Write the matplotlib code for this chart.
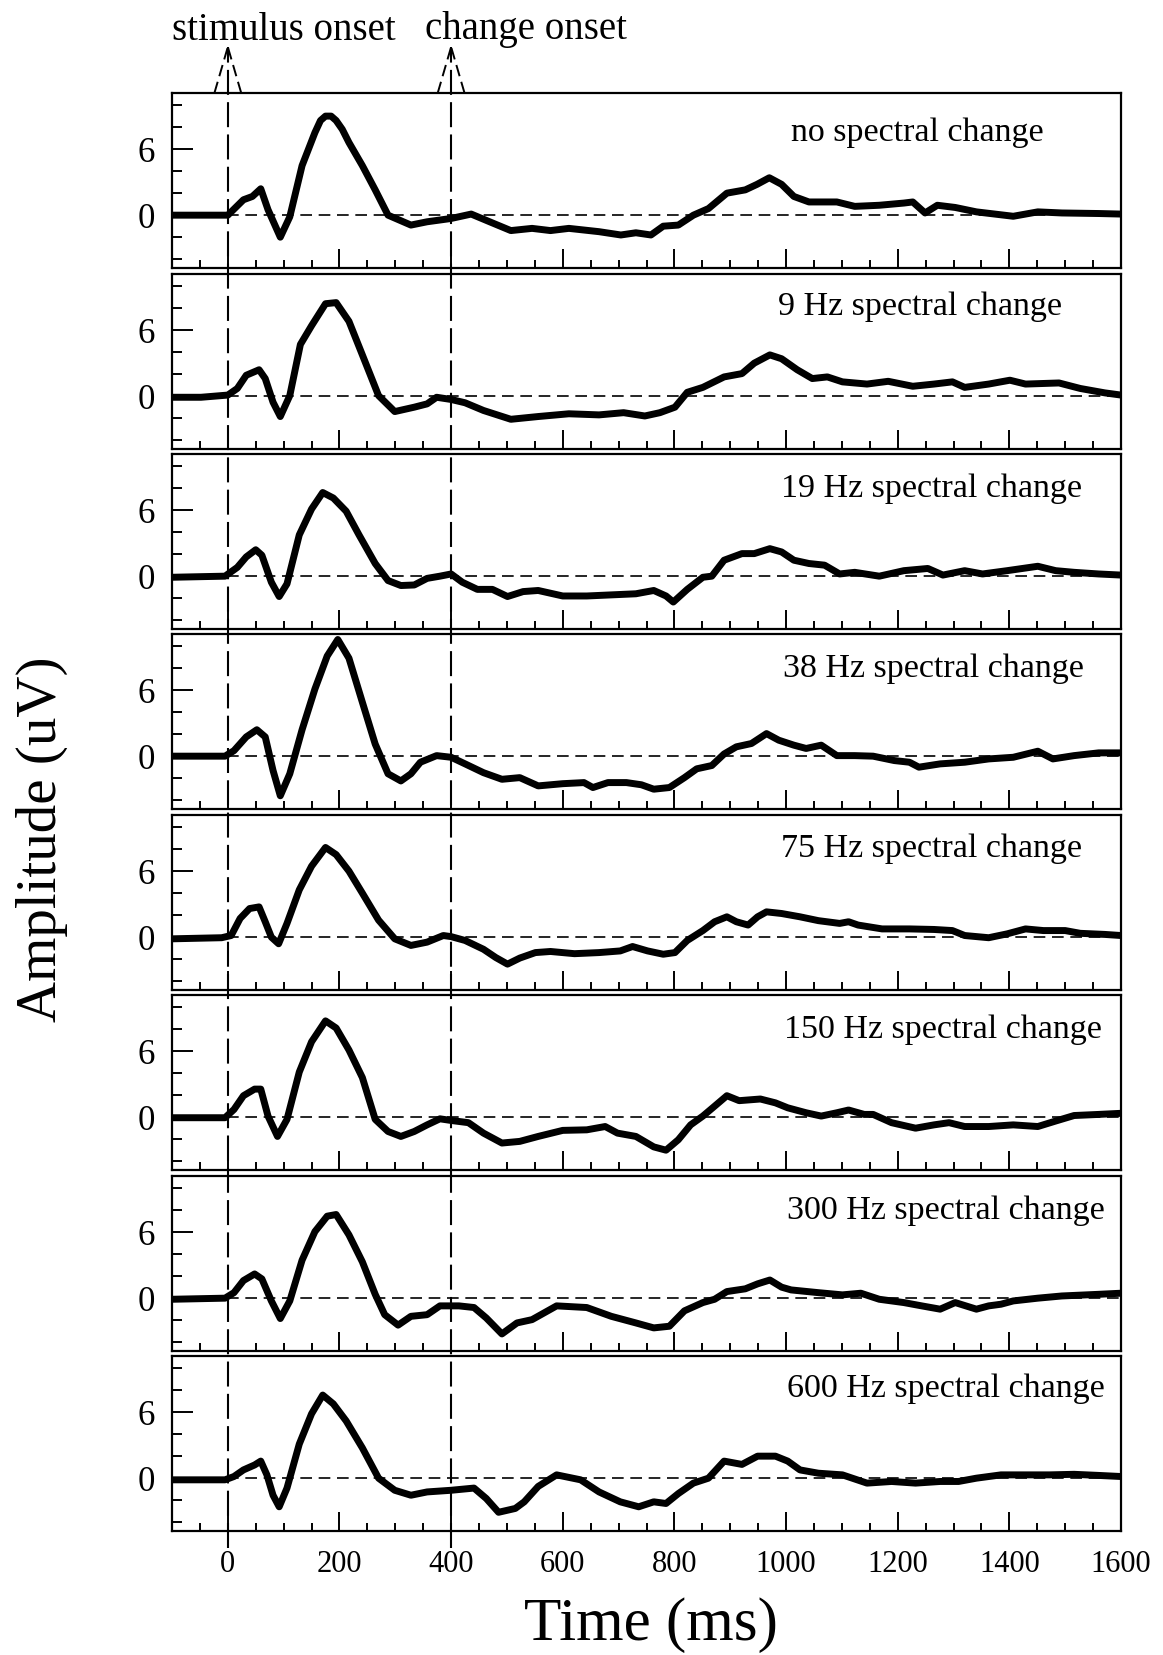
import matplotlib
matplotlib.use("Agg")
import matplotlib.pyplot as plt
from matplotlib.lines import Line2D
from matplotlib.transforms import blended_transform_factory

plt.rcParams['font.family'] = ['Liberation Serif', 'DejaVu Serif']

# ---------------- data ----------------
panel_labels = ["no spectral change", "9 Hz spectral change", "19 Hz spectral change",
                "38 Hz spectral change", "75 Hz spectral change", "150 Hz spectral change",
                "300 Hz spectral change", "600 Hz spectral change"]

t_none = [-100, 0, 28, 44, 59, 72, 94, 111, 133, 156, 166, 175, 185, 194, 205, 217, 241, 264, 287,
          328, 357, 400, 436, 469, 507, 545, 578, 611, 665, 704, 731, 758, 780, 807, 834, 861, 894,
          927, 948, 970, 992, 1014, 1041, 1091, 1123, 1167, 1211, 1227, 1249, 1271, 1303, 1341,
          1407, 1451, 1494, 1560, 1600]
v_none = [0, 0, 1.4, 1.7, 2.4, 0.5, -2.0, -0.15, 4.5, 7.5, 8.6, 9.0, 9.0, 8.6, 7.8, 6.6, 4.5, 2.3,
          0, -0.9, -0.6, -0.3, 0.1, -0.6, -1.4, -1.2, -1.4, -1.2, -1.5, -1.8, -1.6, -1.8, -1.0,
          -0.9, 0, 0.6, 2.0, 2.3, 2.8, 3.4, 2.8, 1.7, 1.2, 1.2, 0.8, 0.9, 1.1, 1.2, 0.2, 0.9, 0.7,
          0.3, -0.1, 0.3, 0.2, 0.15, 0.1]

t_9 = [-100, -48, 0, 17, 33, 56, 67, 81, 94, 111, 130, 150, 175, 194, 217, 241, 270, 299, 334, 357,
       374, 400, 425, 458, 507, 556, 611, 665, 709, 747, 774, 801, 823, 851, 889, 921, 943, 971, 992,
       1020, 1047, 1074, 1101, 1145, 1183, 1227, 1265, 1298, 1320, 1363, 1401, 1429, 1489, 1527,
       1571, 1600]
v_9 = [-0.1, -0.1, 0.1, 0.7, 1.9, 2.4, 1.6, -0.55, -1.85, 0.05, 4.7, 6.4, 8.4, 8.5, 6.8, 3.75, 0.05,
       -1.4, -1.0, -0.7, -0.1, -0.3, -0.6, -1.3, -2.1, -1.85, -1.6, -1.7, -1.5, -1.8, -1.5, -1.0,
       0.35, 0.8, 1.75, 2.05, 3.0, 3.75, 3.4, 2.4, 1.6, 1.75, 1.3, 1.1, 1.35, 0.9, 1.1, 1.3, 0.8,
       1.1, 1.45, 1.1, 1.2, 0.7, 0.3, 0.1]

t_19 = [-100, -5, 17, 33, 50, 61, 78, 92, 106, 128, 150, 170, 189, 212, 235, 264, 287, 310, 334,
        357, 380, 400, 420, 447, 474, 501, 529, 556, 600, 643, 687, 731, 763, 785, 798, 823, 851,
        867, 889, 921, 943, 971, 992, 1014, 1041, 1069, 1096, 1123, 1167, 1211, 1254, 1281, 1320,
        1352, 1396, 1451, 1483, 1516, 1560, 1600]
v_19 = [-0.1, 0, 0.8, 1.75, 2.4, 1.9, -0.55, -1.85, -0.7, 3.75, 6.1, 7.6, 7.1, 5.9, 3.75, 1.15,
        -0.4, -0.85, -0.8, -0.2, 0, 0.2, -0.55, -1.2, -1.2, -1.85, -1.4, -1.3, -1.8, -1.8, -1.7,
        -1.6, -1.3, -1.8, -2.35, -1.2, -0.1, 0, 1.45, 2.05, 2.05, 2.5, 2.2, 1.45, 1.15, 1.0, 0.2,
        0.35, 0, 0.5, 0.7, 0.1, 0.5, 0.2, 0.5, 0.9, 0.5, 0.35, 0.2, 0.1]

t_38 = [-100, -5, 11, 33, 52, 67, 81, 94, 111, 133, 156, 178, 197, 217, 241, 264, 287, 310, 328,
        345, 374, 400, 425, 458, 491, 523, 556, 600, 638, 654, 681, 714, 741, 763, 791, 818, 840,
        867, 889, 911, 938, 965, 987, 1014, 1036, 1063, 1091, 1123, 1156, 1194, 1221, 1238, 1276,
        1320, 1363, 1407, 1451, 1478, 1516, 1560, 1600]
v_38 = [0, 0, 0.5, 1.75, 2.4, 1.75, -1.3, -3.6, -1.6, 2.4, 6.1, 9.1, 10.6, 8.9, 4.9, 1.1, -1.6,
        -2.25, -1.6, -0.55, 0.05, -0.1, -0.7, -1.5, -2.1, -1.95, -2.7, -2.5, -2.4, -2.85, -2.4,
        -2.4, -2.6, -3.0, -2.85, -1.95, -1.15, -0.85, 0.2, 0.85, 1.15, 2.05, 1.45, 1.0, 0.7, 1.0,
        0.05, 0.05, 0, -0.4, -0.55, -1.0, -0.7, -0.55, -0.25, -0.1, 0.45, -0.25, 0.05, 0.3, 0.3]

t_75 = [-100, -11, 6, 22, 39, 56, 67, 78, 91, 106, 128, 150, 175, 194, 217, 241, 270, 299, 328,
        357, 386, 400, 425, 458, 480, 501, 523, 551, 578, 621, 665, 703, 725, 752, 780, 801, 823,
        851, 872, 894, 911, 932, 949, 965, 992, 1025, 1058, 1096, 1112, 1129, 1172, 1221, 1265,
        1298, 1320, 1363, 1396, 1429, 1461, 1500, 1527, 1571, 1600]
v_75 = [-0.15, -0.05, 0.15, 1.7, 2.6, 2.75, 1.4, 0, -0.6, 1.25, 4.3, 6.45, 8.15, 7.5, 6.0, 4.0,
        1.55, -0.15, -0.75, -0.45, 0.15, 0.05, -0.3, -1.1, -1.85, -2.45, -1.9, -1.4, -1.3, -1.5,
        -1.4, -1.25, -0.85, -1.25, -1.55, -1.4, -0.3, 0.6, 1.4, 1.85, 1.4, 1.1, 1.85, 2.3, 2.15,
        1.85, 1.5, 1.25, 1.4, 1.1, 0.75, 0.75, 0.7, 0.6, 0.15, -0.05, 0.3, 0.75, 0.6, 0.6, 0.35,
        0.25, 0.15]

t_150 = [-100, -5, 11, 28, 48, 59, 72, 89, 106, 128, 150, 175, 194, 217, 241, 264, 287, 310, 334,
         357, 380, 400, 431, 458, 491, 523, 556, 600, 643, 676, 698, 731, 763, 785, 807, 829, 851,
         872, 894, 916, 954, 981, 1003, 1036, 1063, 1091, 1112, 1140, 1156, 1189, 1232, 1265,
         1292, 1320, 1363, 1407, 1451, 1483, 1516, 1560, 1600]
v_150 = [-0.05, -0.05, 0.7, 1.95, 2.55, 2.55, 0.1, -1.75, -0.2, 4.1, 6.85, 8.75, 8.1, 6.1, 3.6,
         -0.2, -1.3, -1.75, -1.3, -0.7, -0.15, -0.3, -0.5, -1.45, -2.35, -2.2, -1.75, -1.2, -1.15,
         -0.85, -1.45, -1.75, -2.7, -3.0, -2.05, -0.7, 0.1, 1.0, 1.95, 1.5, 1.65, 1.3, 0.85, 0.4,
         0.1, 0.4, 0.65, 0.25, 0.25, -0.5, -1.0, -0.7, -0.5, -0.85, -0.85, -0.7, -0.85, -0.35,
         0.15, 0.25, 0.35]

t_300 = [-100, -5, 11, 28, 48, 61, 78, 94, 111, 133, 156, 178, 194, 217, 241, 264, 281, 305, 328,
         357, 380, 414, 441, 463, 491, 518, 545, 589, 643, 687, 731, 763, 791, 818, 851, 872, 894,
         927, 949, 971, 992, 1009, 1058, 1101, 1134, 1167, 1211, 1243, 1276, 1303, 1341, 1363,
         1385, 1407, 1451, 1494, 1560, 1600]
v_300 = [-0.1, 0, 0.5, 1.6, 2.2, 1.75, -0.25, -1.85, -0.25, 3.45, 6.05, 7.45, 7.6, 5.75, 3.3,
         0.35, -1.5, -2.45, -1.65, -1.5, -0.7, -0.7, -0.85, -1.8, -3.25, -2.25, -1.95, -0.7,
         -0.85, -1.65, -2.25, -2.7, -2.55, -1.15, -0.4, -0.1, 0.6, 0.85, 1.3, 1.65, 1.0, 0.75,
         0.5, 0.3, 0.45, -0.1, -0.4, -0.7, -1.0, -0.4, -1.0, -0.7, -0.55, -0.25, 0, 0.2, 0.35,
         0.45]

t_600 = [-100, -5, 11, 28, 48, 59, 70, 81, 92, 106, 128, 150, 170, 189, 212, 241, 270, 299, 328,
         357, 400, 441, 463, 485, 515, 531, 556, 589, 632, 665, 703, 736, 763, 785, 807, 834, 861,
         889, 921, 949, 981, 1003, 1025, 1058, 1101, 1145, 1189, 1232, 1276, 1309, 1341, 1385,
         1429, 1472, 1516, 1560, 1600]
v_600 = [-0.15, -0.15, 0.15, 0.75, 1.2, 1.55, 0.3, -1.55, -2.6, -0.9, 3.1, 5.85, 7.55, 6.75,
         5.2, 2.75, 0, -1.1, -1.55, -1.25, -1.1, -0.9, -1.85, -3.1, -2.75, -2.15, -0.75, 0.3,
         -0.15, -1.25, -2.15, -2.6, -2.15, -2.3, -1.4, -0.45, 0, 1.55, 1.25, 2.0, 2.0, 1.55, 0.75,
         0.45, 0.3, -0.45, -0.3, -0.45, -0.3, -0.3, 0, 0.3, 0.3, 0.3, 0.35, 0.25, 0.15]

times = [t_none, t_9, t_19, t_38, t_75, t_150, t_300, t_600]
values = [v_none, v_9, v_19, v_38, v_75, v_150, v_300, v_600]

x_major = list(range(0, 1601, 200))
x_minor = list(range(-50, 1601, 50))
y_major = [0, 6]
y_minor = [-4, -2, 2, 4, 8, 10]
onsets = [0, 400]
onset_names = ["stimulus onset", "change onset"]

# ---------------- layout ----------------
W, H = 1163, 1655
fig = plt.figure(figsize=(W / 100, H / 100), dpi=100)
left_px, right_px = 172, 1121
tops_px = [93, 274, 454, 634, 815, 995, 1176, 1356]
height_px = 175
label_xfrac = [0.785, 0.788, 0.80, 0.802, 0.80, 0.812, 0.815, 0.815]
label_yfrac = [0.77, 0.81, 0.80, 0.80, 0.81, 0.80, 0.80, 0.81]

axes = []
for i, top in enumerate(tops_px):
    ax = fig.add_axes([left_px / W, 1 - (top + height_px) / H,
                       (right_px - left_px) / W, height_px / H])
    ax.axhline(0, color='black', lw=1.2, ls=(0, (7, 4)), zorder=1)
    ax.plot(times[i], values[i], color='black', lw=5.0,
            solid_joinstyle='round', solid_capstyle='round', zorder=3)
    ax.set_xlim(-100, 1600)
    ax.set_ylim(-4.8, 11.1)
    ax.set_xticks(x_major)
    ax.set_xticks(x_minor, minor=True)
    ax.set_yticks(y_major)
    ax.set_yticks(y_minor, minor=True)
    ax.tick_params(which='both', direction='in', top=False, right=False,
                   width=1.4, color='black')
    ax.tick_params(axis='y', which='major', length=15, labelsize=25, pad=12)
    ax.tick_params(axis='y', which='minor', length=7)
    ax.tick_params(axis='x', which='major', length=13.5, labelsize=22, pad=14)
    ax.tick_params(axis='x', which='minor', length=5.8)
    if i < len(tops_px) - 1:
        ax.tick_params(labelbottom=False)
    for s in ax.spines.values():
        s.set_linewidth(1.6)
    ax.text(label_xfrac[i], label_yfrac[i], panel_labels[i], transform=ax.transAxes,
            ha='center', va='center', fontsize=24.5)
    axes.append(ax)

# onset markers spanning all panels
tr = blended_transform_factory(axes[0].transData, fig.transFigure)
y_bot = 1 - 1548 / H
y_top_ax = 1 - 93 / H
y_tip = 1 - 47 / H
for t0, name in zip(onsets, onset_names):
    fig.add_artist(Line2D([t0, t0], [y_bot, y_tip], transform=tr, color='black',
                          lw=1.5, ls=(0, (12, 3.5)), zorder=5))
    fig.add_artist(Line2D([t0 - 24, t0], [y_top_ax, y_tip], transform=tr, color='black',
                          lw=1.4, ls=(0, (6, 3))))
    fig.add_artist(Line2D([t0 + 24, t0], [y_top_ax, y_tip], transform=tr, color='black',
                          lw=1.4, ls=(0, (6, 3))))

fig.text(284 / W, 1 - 30 / H, onset_names[0], ha='center', va='center', fontsize=28)
fig.text(526 / W, 1 - 30 / H, onset_names[1], ha='center', va='center', fontsize=28)

fig.text(42 / W, 1 - 839 / H, "Amplitude (uV)", rotation=90, ha='center', va='center',
         fontsize=41)
fig.text(651 / W, 1 - 1625 / H, "Time (ms)", ha='center', va='center', fontsize=44)

fig.savefig("out.png", dpi=100)
